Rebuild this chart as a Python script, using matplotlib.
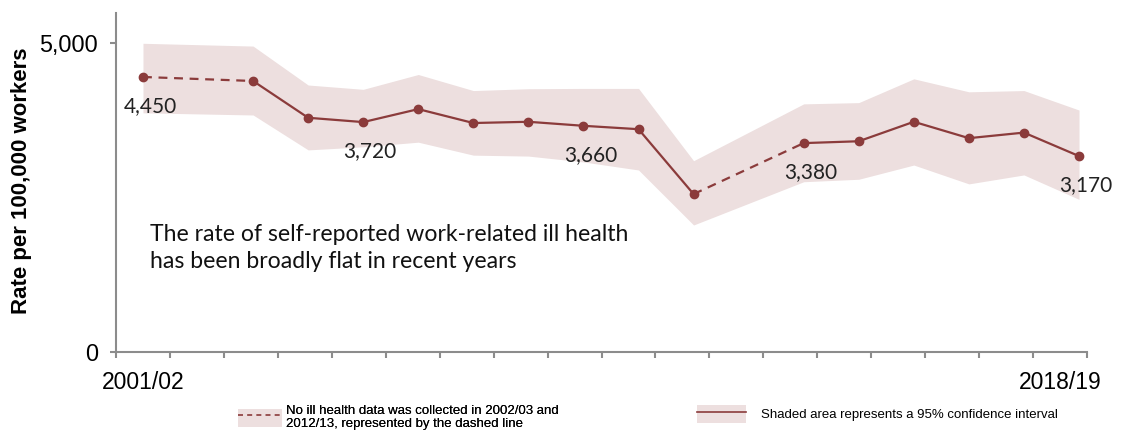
import matplotlib
matplotlib.use("Agg")
import matplotlib.pyplot as plt
from matplotlib.patches import Patch
from matplotlib.lines import Line2D
import numpy as np

# ---- data ----
years = ["2001/02", "2002/03", "2003/04", "2004/05", "2005/06", "2006/07", "2007/08",
         "2008/09", "2009/10", "2010/11", "2011/12", "2012/13", "2013/14", "2014/15",
         "2015/16", "2016/17", "2017/18", "2018/19"]
rate = [4450, None, 4385, 3790, 3720, 3930, 3705, 3725, 3660, 3605, 2555, None,
        3380, 3410, 3725, 3460, 3550, 3170]
upper = [4995, None, 4950, 4320, 4250, 4490, 4230, 4260, 4265, 4265, 3095, None,
         4015, 4035, 4420, 4210, 4230, 3915]
lower = [3870, None, 3835, 3270, 3320, 3395, 3185, 3170, 3075, 2945, 2055, None,
         2755, 2795, 3025, 2720, 2865, 2470]
labelled = {"2001/02": "4,450", "2005/06": "3,720", "2009/10": "3,660",
            "2013/14": "3,380", "2018/19": "3,170"}
tick_labels = ["2001/02", "2018/19"]
annotation = "The rate of self-reported work-related ill health\nhas been broadly flat in recent years"
legend_dashed = "No ill health data was collected in 2002/03 and\n2012/13, represented by the dashed line"
legend_solid = "Shaded area represents a 95% confidence interval"

LINE = "#8B3B3B"
BAND = "#EDDFDF"
SPINE = "#8C8C8C"

W, H = 1138, 432
fig = plt.figure(figsize=(W / 100, H / 100), dpi=100)
ax = fig.add_axes([116 / W, 1 - 352 / H, (1087 - 116) / W, (352 - 12.7) / H])

idx = np.arange(len(years))
valid = np.array([r is not None for r in rate])
xv = idx[valid]
rv = np.array([r for r in rate if r is not None], dtype=float)
uv = np.array([u for u in upper if u is not None], dtype=float)
lv = np.array([l for l in lower if l is not None], dtype=float)

ax.fill_between(xv, lv, uv, color=BAND, lw=0, zorder=1)

# segments: dashed across gaps, solid otherwise
for a, b in zip(range(len(xv) - 1), range(1, len(xv))):
    gap = xv[b] - xv[a] > 1
    ax.plot([xv[a], xv[b]], [rv[a], rv[b]], color=LINE, lw=1.6,
            ls=(0, (4, 3)) if gap else "-", zorder=2, solid_capstyle="round")
ax.plot(xv, rv, ls="none", marker="o", ms=6, color=LINE, zorder=3)

for yr, txt in labelled.items():
    i = years.index(yr)
    ax.annotate(txt, (i, rate[i]), xytext=(5, -21), textcoords="offset points",
                ha="center", va="center", fontsize=15, family="Lato", color="#222222")

ax.text(0.035, 0.378, annotation, transform=ax.transAxes, ha="left", va="top",
        fontsize=16.6, family="Lato", color="#111111", linespacing=1.38)

# axes styling
x0, x1 = -0.49, 17.145
ax.set_xlim(x0, x1)
ax.set_ylim(0, 5490)
for s in ["top", "right"]:
    ax.spines[s].set_visible(False)
for s in ["left", "bottom"]:
    ax.spines[s].set_color(SPINE)
    ax.spines[s].set_linewidth(1.5)

step = (x1 - x0) / len(years)
bounds = x0 + step * np.arange(len(years) + 1)
ax.set_xticks(bounds, minor=True)
centers = [(bounds[0] + bounds[1]) / 2, (bounds[-2] + bounds[-1]) / 2]
ax.set_xticks(centers)
ax.set_xticklabels(tick_labels, fontsize=16.5, family="Liberation Sans")
ax.tick_params(axis="x", which="major", length=0, pad=14)
ax.tick_params(axis="x", which="minor", length=4.5, width=1.5, color=SPINE)

ax.set_yticks([0, 5000])
ax.set_yticklabels(["0", "5,000"], fontsize=16.8, family="Liberation Sans")
ax.tick_params(axis="y", length=4.5, width=1.5, color=SPINE, pad=8.5)
ax.set_ylabel("Rate per 100,000 workers", fontsize=16, fontweight="bold",
              family="Liberation Sans")
ax.yaxis.set_label_coords(-0.086, 0.504)

# legends
h1 = (Patch(facecolor=BAND, edgecolor="none"), Line2D([], [], color=LINE, lw=1.2, ls=(0, (3, 2.5))))
h2 = (Patch(facecolor=BAND, edgecolor="none"), Line2D([], [], color=LINE, lw=1.2))
leg1 = fig.legend([h1], [legend_dashed], loc="upper left",
                  bbox_to_anchor=(238 / W, 1 - 405 / H), frameon=False,
                  prop={"family": "Liberation Sans", "size": 9.5},
                  handlelength=3.3, handleheight=1.75, handletextpad=0.3,
                  borderpad=0, borderaxespad=0)
leg2 = fig.legend([h2], [legend_solid], loc="upper left",
                  bbox_to_anchor=(697 / W, 1 - 405 / H), frameon=False,
                  prop={"family": "Liberation Sans", "size": 9.5},
                  handlelength=3.7, handleheight=1.75, handletextpad=1.15,
                  borderpad=0, borderaxespad=0)
for lg in (leg1, leg2):
    for t in lg.get_texts():
        t.set_linespacing(1.1)
fig.add_artist(leg1)

fig.savefig("out.png", dpi=100)
